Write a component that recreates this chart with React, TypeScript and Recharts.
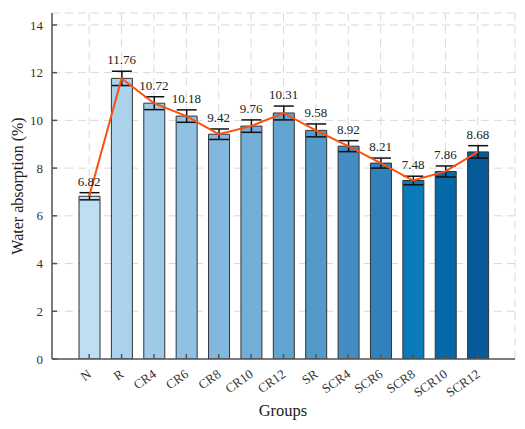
import React from "react";
import {
  ComposedChart, Bar, Cell, Line, XAxis, YAxis, CartesianGrid, ErrorBar, LabelList,
} from "recharts";

const groups = ["N", "R", "CR4", "CR6", "CR8", "CR10", "CR12", "SR", "SCR4", "SCR6", "SCR8", "SCR10", "SCR12"];
const absorption = [6.82, 11.76, 10.72, 10.18, 9.42, 9.76, 10.31, 9.58, 8.92, 8.21, 7.48, 7.86, 8.68];
const errors = [0.15, 0.3, 0.27, 0.26, 0.22, 0.26, 0.29, 0.27, 0.23, 0.21, 0.18, 0.23, 0.26];
const yTicks = [0, 2, 4, 6, 8, 10, 12, 14];

const barColors = [
  "#bedff2", "#aad2ec", "#9dcae7", "#90c1e2", "#82b8dd", "#73aed7", "#62a3d0",
  "#5399ca", "#438dc2", "#3182bc", "#0a7ab8", "#0768a8", "#065a98",
];

const data = groups.map((g, i) => ({
  name: g,
  v: absorption[i],
  err: errors[i],
  top: absorption[i] + errors[i],
}));

const FONT = "'Liberation Serif', 'Times New Roman', serif";
const AXIS = "#555";

function XTick(props: any) {
  const { x, y, payload } = props;
  return (
    <g transform={`translate(${x + 3},${y + 8})`}>
      <text
        x={0}
        y={0}
        textAnchor="end"
        transform="rotate(-35)"
        fontFamily={FONT}
        fontSize={13}
        fill="#333"
      >
        {payload.value}
      </text>
    </g>
  );
}

function ValueLabel(props: any) {
  const { x, y, value } = props;
  return (
    <text x={x} y={y - 7} textAnchor="middle" fontFamily={FONT} fontSize={13} fill="#222">
      {Number(value).toFixed(2)}
    </text>
  );
}

export default function App() {
  return (
    <div style={{ position: "absolute", left: 0, top: 0, width: 525, height: 429, background: "#fff" }}>
      <ComposedChart
        width={525}
        height={429}
        data={data}
        margin={{ top: 13, right: 10, bottom: 0, left: 0 }}
      >
        <CartesianGrid stroke="#d9d9d9" strokeDasharray="8 5" />
        <XAxis
          dataKey="name"
          padding={{ left: 21, right: 21 }}
          height={70}
          stroke={AXIS}
          strokeWidth={1.5}
          tickSize={-5}
          tickMargin={14}
          interval={0}
          tick={<XTick />}
        />
        <XAxis
          xAxisId="top"
          dataKey="name"
          orientation="top"
          padding={{ left: 21, right: 21 }}
          height={0}
          mirror
          stroke={AXIS}
          strokeWidth={1.5}
          tickSize={5}
          interval={0}
          tick={{ fill: "none" }}
        />
        <YAxis
          domain={[0, 14.5]}
          ticks={yTicks}
          width={52}
          stroke={AXIS}
          strokeWidth={1.5}
          tickSize={-5}
          tickMargin={14}
          tick={{ fill: "#333", fontFamily: FONT, fontSize: 13 }}
          allowDataOverflow
        />
        <YAxis
          yAxisId="right"
          orientation="right"
          domain={[0, 14.5]}
          ticks={yTicks}
          width={0}
          mirror
          stroke={AXIS}
          strokeWidth={1.5}
          tickSize={5}
          tick={{ fill: "none" }}
          allowDataOverflow
        />
        <Bar dataKey="v" barSize={21} stroke="#333" strokeWidth={1} isAnimationActive={false}>
          {data.map((d, i) => (
            <Cell key={d.name} fill={barColors[i]} />
          ))}
          <ErrorBar dataKey="err" width={10} stroke="#111" strokeWidth={1.5} />
        </Bar>
        <Line
          type="linear"
          dataKey="v"
          stroke="#ff4e0d"
          strokeWidth={2}
          dot={false}
          activeDot={false}
          isAnimationActive={false}
        />
        <Line
          type="linear"
          dataKey="top"
          stroke="none"
          dot={false}
          activeDot={false}
          isAnimationActive={false}
        >
          <LabelList dataKey="v" content={<ValueLabel />} />
        </Line>
      </ComposedChart>
      <div
        style={{
          position: "absolute",
          left: 18,
          top: 186,
          transform: "translate(-50%, -50%) rotate(-90deg)",
          whiteSpace: "nowrap",
          fontFamily: FONT,
          fontSize: 16,
          color: "#222",
        }}
      >
        Water absorption (%)
      </div>
      <div
        style={{
          position: "absolute",
          left: 283,
          top: 411,
          transform: "translate(-50%, -50%)",
          whiteSpace: "nowrap",
          fontFamily: FONT,
          fontSize: 16.5,
          color: "#222",
        }}
      >
        Groups
      </div>
    </div>
  );
}
